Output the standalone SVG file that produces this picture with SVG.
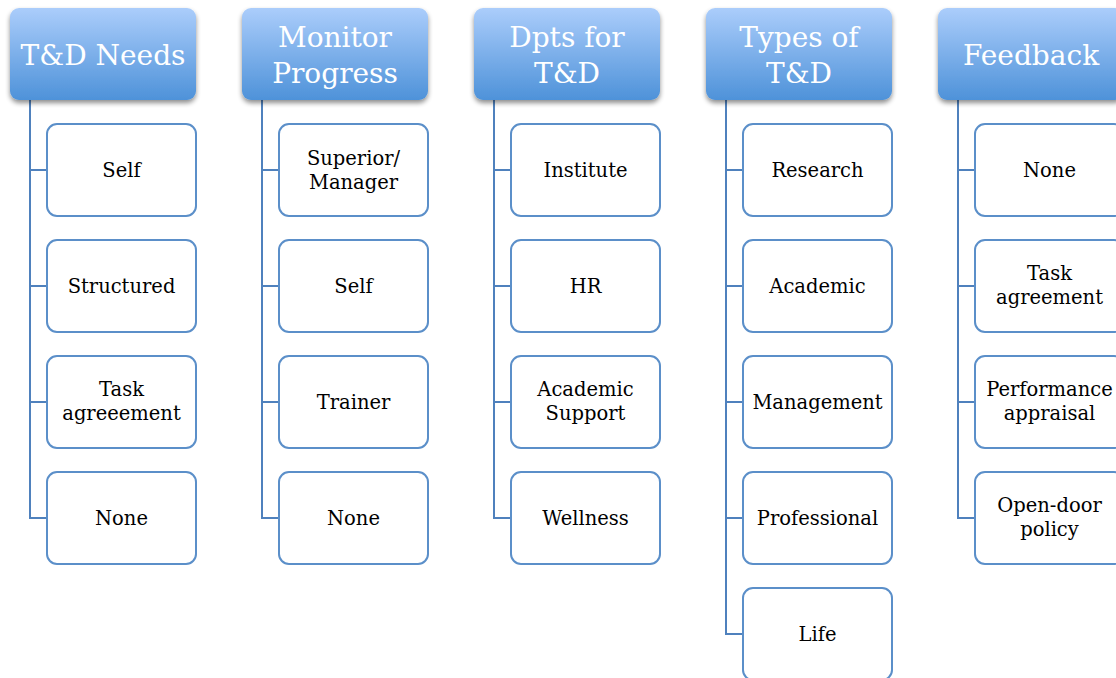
<svg xmlns="http://www.w3.org/2000/svg" width="1116" height="678" viewBox="0 0 1116 678">
<defs>
<linearGradient id="hg" x1="0" y1="0" x2="0" y2="1">
<stop offset="0" stop-color="#abcdfb"/>
<stop offset="1" stop-color="#4e92d9"/>
</linearGradient>
<filter id="sh" x="-10%" y="-10%" width="130%" height="140%">
<feGaussianBlur in="SourceAlpha" stdDeviation="2.5"/>
<feOffset dx="0" dy="3" result="b"/>
<feComponentTransfer><feFuncA type="linear" slope="0.45"/></feComponentTransfer>
<feMerge><feMergeNode/><feMergeNode in="SourceGraphic"/></feMerge>
</filter>
</defs>
<style>
.h{fill:url(#hg);filter:url(#sh)}
.ht{font-family:"DejaVu Serif","Liberation Serif",serif;font-size:28px;fill:#fff;text-anchor:middle;dominant-baseline:central}
.c{fill:#fff;stroke:#5b8fc9;stroke-width:2}
.ct{font-family:"DejaVu Serif","Liberation Serif",serif;font-size:19.5px;fill:#000;text-anchor:middle;dominant-baseline:central}
.ln{fill:none;stroke:#4f81bd;stroke-width:2}
</style>
<g id="connectors">
<path class="ln" d="M30 100V518H47M30 170H47M30 286H47M30 402H47"/>
<path class="ln" d="M262 100V518H279M262 170H279M262 286H279M262 402H279"/>
<path class="ln" d="M494 100V518H511M494 170H511M494 286H511M494 402H511"/>
<path class="ln" d="M726 100V634H743M726 170H743M726 286H743M726 402H743M726 518H743"/>
<path class="ln" d="M958 100V518H975M958 170H975M958 286H975M958 402H975"/>
</g>
<g id="h1"><rect class="h" x="10" y="8" width="186" height="92" rx="9"/><text class="ht" x="103" y="55">T&amp;D Needs</text></g>
<g id="h2"><rect class="h" x="242" y="8" width="186" height="92" rx="9"/><text class="ht" x="335" y="37">Monitor</text><text class="ht" x="335" y="73">Progress</text></g>
<g id="h3"><rect class="h" x="474" y="8" width="186" height="92" rx="9"/><text class="ht" x="567" y="37">Dpts for</text><text class="ht" x="567" y="73">T&amp;D</text></g>
<g id="h4"><rect class="h" x="706" y="8" width="186" height="92" rx="9"/><text class="ht" x="799" y="37">Types of</text><text class="ht" x="799" y="73">T&amp;D</text></g>
<g id="h5"><rect class="h" x="938" y="8" width="186" height="92" rx="9"/><text class="ht" x="1031" y="55">Feedback</text></g>

<g id="n1a"><rect class="c" x="47" y="124" width="149" height="92" rx="10"/><text class="ct" x="121.5" y="170">Self</text></g>
<g id="n1b"><rect class="c" x="47" y="240" width="149" height="92" rx="10"/><text class="ct" x="121.5" y="286">Structured</text></g>
<g id="n1c"><rect class="c" x="47" y="356" width="149" height="92" rx="10"/><text class="ct" x="121.5" y="389">Task</text><text class="ct" x="121.5" y="413">agreeement</text></g>
<g id="n1d"><rect class="c" x="47" y="472" width="149" height="92" rx="10"/><text class="ct" x="121.5" y="518">None</text></g>

<g id="n2a"><rect class="c" x="279" y="124" width="149" height="92" rx="10"/><text class="ct" x="353.5" y="158">Superior/</text><text class="ct" x="353.5" y="182">Manager</text></g>
<g id="n2b"><rect class="c" x="279" y="240" width="149" height="92" rx="10"/><text class="ct" x="353.5" y="286">Self</text></g>
<g id="n2c"><rect class="c" x="279" y="356" width="149" height="92" rx="10"/><text class="ct" x="353.5" y="402">Trainer</text></g>
<g id="n2d"><rect class="c" x="279" y="472" width="149" height="92" rx="10"/><text class="ct" x="353.5" y="518">None</text></g>

<g id="n3a"><rect class="c" x="511" y="124" width="149" height="92" rx="10"/><text class="ct" x="585.5" y="170">Institute</text></g>
<g id="n3b"><rect class="c" x="511" y="240" width="149" height="92" rx="10"/><text class="ct" x="585.5" y="286">HR</text></g>
<g id="n3c"><rect class="c" x="511" y="356" width="149" height="92" rx="10"/><text class="ct" x="585.5" y="389">Academic</text><text class="ct" x="585.5" y="413">Support</text></g>
<g id="n3d"><rect class="c" x="511" y="472" width="149" height="92" rx="10"/><text class="ct" x="585.5" y="518">Wellness</text></g>

<g id="n4a"><rect class="c" x="743" y="124" width="149" height="92" rx="10"/><text class="ct" x="817.5" y="170">Research</text></g>
<g id="n4b"><rect class="c" x="743" y="240" width="149" height="92" rx="10"/><text class="ct" x="817.5" y="286">Academic</text></g>
<g id="n4c"><rect class="c" x="743" y="356" width="149" height="92" rx="10"/><text class="ct" x="817.5" y="402">Management</text></g>
<g id="n4d"><rect class="c" x="743" y="472" width="149" height="92" rx="10"/><text class="ct" x="817.5" y="518">Professional</text></g>
<g id="n4e"><rect class="c" x="743" y="588" width="149" height="92" rx="10"/><text class="ct" x="817.5" y="634">Life</text></g>

<g id="n5a"><rect class="c" x="975" y="124" width="149" height="92" rx="10"/><text class="ct" x="1049.5" y="170">None</text></g>
<g id="n5b"><rect class="c" x="975" y="240" width="149" height="92" rx="10"/><text class="ct" x="1049.5" y="273">Task</text><text class="ct" x="1049.5" y="297">agreement</text></g>
<g id="n5c"><rect class="c" x="975" y="356" width="149" height="92" rx="10"/><text class="ct" x="1049.5" y="389">Performance</text><text class="ct" x="1049.5" y="413">appraisal</text></g>
<g id="n5d"><rect class="c" x="975" y="472" width="149" height="92" rx="10"/><text class="ct" x="1049.5" y="505">Open-door</text><text class="ct" x="1049.5" y="529">policy</text></g>
</svg>
